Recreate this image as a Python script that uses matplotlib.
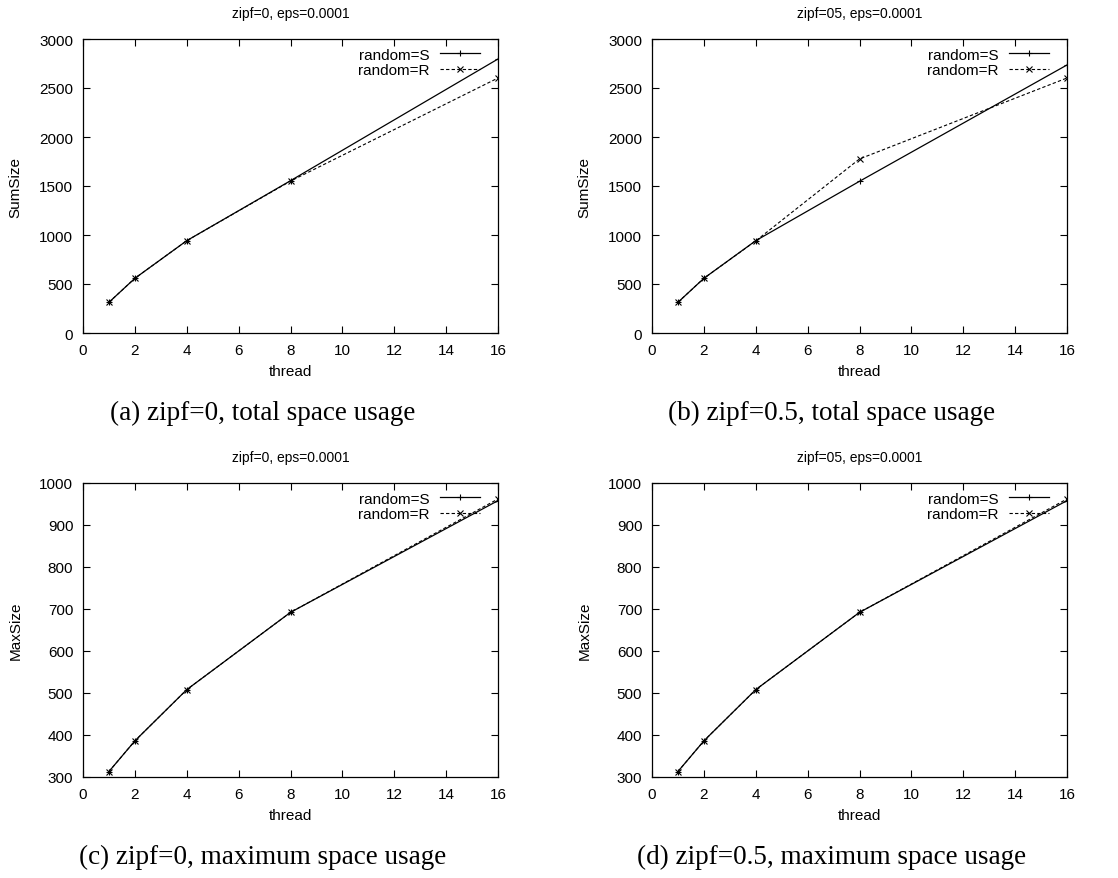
import matplotlib
matplotlib.use("Agg")
import matplotlib.pyplot as plt

plt.rcParams['font.family'] = ['Liberation Sans', 'DejaVu Sans']

threads = [1, 2, 4, 8, 16]

# total space usage (SumSize)
sum_z0_S = [313, 558, 942, 1554, 2796]
sum_z0_R = [313, 558, 942, 1550, 2602]
sum_z05_S = [313, 558, 942, 1548, 2735]
sum_z05_R = [313, 558, 940, 1776, 2602]

# maximum space usage (MaxSize)
max_z0_S = [313, 386, 508, 692, 958]
max_z0_R = [313, 386, 508, 692, 962]
max_z05_S = [313, 386, 508, 692, 958]
max_z05_R = [313, 386, 508, 692, 962]

titles = ["zipf=0, eps=0.0001", "zipf=05, eps=0.0001",
          "zipf=0, eps=0.0001", "zipf=05, eps=0.0001"]
captions = ["(a) zipf=0, total space usage", "(b) zipf=0.5, total space usage",
            "(c) zipf=0, maximum space usage", "(d) zipf=0.5, maximum space usage"]
ylabels = ["SumSize", "SumSize", "MaxSize", "MaxSize"]
series = [(sum_z0_S, sum_z0_R), (sum_z05_S, sum_z05_R),
          (max_z0_S, max_z0_R), (max_z05_S, max_z05_R)]

W, H = 1118, 879
fig = plt.figure(figsize=(W / 100, H / 100), dpi=100)

# panel boxes in pixels: left, top, right, bottom
boxes = [(83, 40, 498, 334), (652, 40, 1067, 334),
         (83, 484, 498, 778), (652, 484, 1067, 778)]

for i, (l, t, r, b) in enumerate(boxes):
    ax = fig.add_axes([l / W, 1 - b / H, (r - l) / W, (b - t) / H])
    s, rr = series[i]
    ax.plot(threads, s, '-', color='black', lw=0.9, marker='+', ms=5, mew=0.8,
            label='random=S')
    ax.plot(threads, rr, '--', color='black', lw=0.8, marker='x', ms=4, mew=0.8,
            dashes=(3, 2), label='random=R')
    ax.set_xlim(0, 16)
    ax.set_xticks(range(0, 17, 2))
    if i < 2:
        ax.set_ylim(0, 3000)
        ax.set_yticks(range(0, 3001, 500))
    else:
        ax.set_ylim(300, 1000)
        ax.set_yticks(range(300, 1001, 100))
    ax.tick_params(direction='in', top=True, right=True, length=5, width=0.8,
                   labelsize=11, pad=7)
    for sp in ax.spines.values():
        sp.set_linewidth(0.9)
    ax.set_xlabel('thread', fontsize=11, labelpad=5)
    ax.set_ylabel(ylabels[i], fontsize=11, labelpad=12)
    ax.set_title(titles[i], fontsize=10, pad=16)
    ax.legend(loc='upper right', bbox_to_anchor=(0.957, 0.971), frameon=False,
              markerfirst=False, fontsize=11, handlelength=2.6, borderpad=0,
              borderaxespad=0, labelspacing=0.12, handletextpad=0.7)
    cx = (l + r) / 2 / W - 0.025
    fig.text(cx, 1 - (b + 79) / H, captions[i], ha='center', va='center',
             fontsize=19.5, family='Liberation Serif')

fig.savefig('out.png', dpi=100)
